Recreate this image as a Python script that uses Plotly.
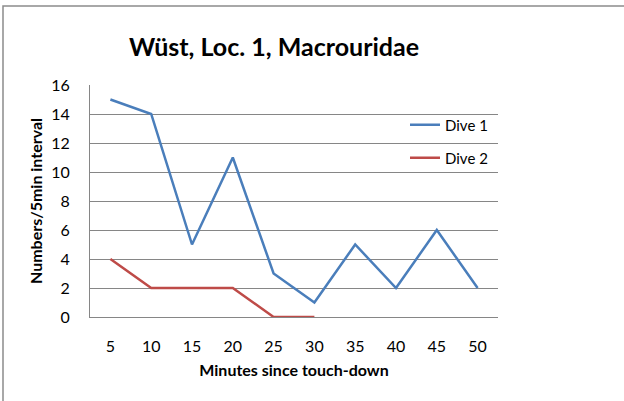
import plotly.graph_objects as go

minutes = ["5", "10", "15", "20", "25", "30", "35", "40", "45", "50"]
dive1 = [15, 14, 5, 11, 3, 1, 5, 2, 6, 2]
dive2 = [4, 2, 2, 2, 0, 0]
y_ticks = [0, 2, 4, 6, 8, 10, 12, 14, 16]

FONT = "Lato, Open Sans, sans-serif"
GRID = "#868686"

fig = go.Figure()
fig.add_trace(go.Scatter(x=minutes, y=dive1, mode="lines", name="Dive 1", showlegend=True,
                         line=dict(color="#4A7EBB", width=2.5), legend="legend"))
fig.add_trace(go.Scatter(x=minutes[:len(dive2)], y=dive2, mode="lines", name="Dive 2", showlegend=True,
                         line=dict(color="#BE4B48", width=2.5), legend="legend2"))

# plot area: x 90..498, y 85..317
L, T, W, H = 90, 85, 408, 232

def px(x):
    return (x - L) / W

def py(y):
    return (T + H - y) / H

legend_common = dict(bgcolor="rgba(0,0,0,0)", borderwidth=0,
                     font=dict(family=FONT, size=15, color="#000"),
                     xanchor="left", yanchor="middle", itemwidth=30)

fig.update_layout(
    width=624, height=401, showlegend=True,
    margin=dict(l=L, r=624 - L - W, t=T, b=401 - T - H),
    paper_bgcolor="white", plot_bgcolor="white",
    font=dict(family=FONT, size=15, color="#000"),
    title=dict(text="<b>Wüst, Loc. 1, Macrouridae</b>", x=px(274), xref="paper",
               xanchor="center", y=1 - 47 / 401, yanchor="middle",
               font=dict(family=FONT, size=25, color="#000")),
    legend=dict(x=px(405), y=py(125), **legend_common),
    legend2=dict(x=px(405), y=py(158), **legend_common),
    xaxis=dict(type="category", categoryorder="array", categoryarray=minutes,
               range=[-0.5, 9.5], showgrid=False, showline=True, linecolor=GRID,
               linewidth=1, ticks="", ticklabelstandoff=15,
               tickfont=dict(family=FONT, size=16, color="#000"),
               title=dict(text="<b>Minutes since touch-down</b>", standoff=10,
                          font=dict(family=FONT, size=16, color="#000"))),
    yaxis=dict(range=[0, 16], tickvals=y_ticks, showgrid=True, gridcolor=GRID,
               gridwidth=1, showline=True, linecolor=GRID, linewidth=1,
               zeroline=False, ticks="", ticklabelstandoff=16,
               tickfont=dict(family=FONT, size=16, color="#000"),
               title=dict(text="<b>Numbers/5min interval</b>", standoff=4,
                          font=dict(family=FONT, size=16, color="#000"))),
    shapes=[dict(type="rect", xref="paper", yref="paper",
                 x0=px(3), x1=px(660), y0=py(440), y1=py(6),
                 line=dict(color="#8c8c8c", width=1.5), fillcolor="rgba(0,0,0,0)",
                 layer="below")],
)

fig.write_html("out.html", config={"displayModeBar": False},
               post_script="document.body.style.margin='0';document.body.style.overflow='hidden';")
